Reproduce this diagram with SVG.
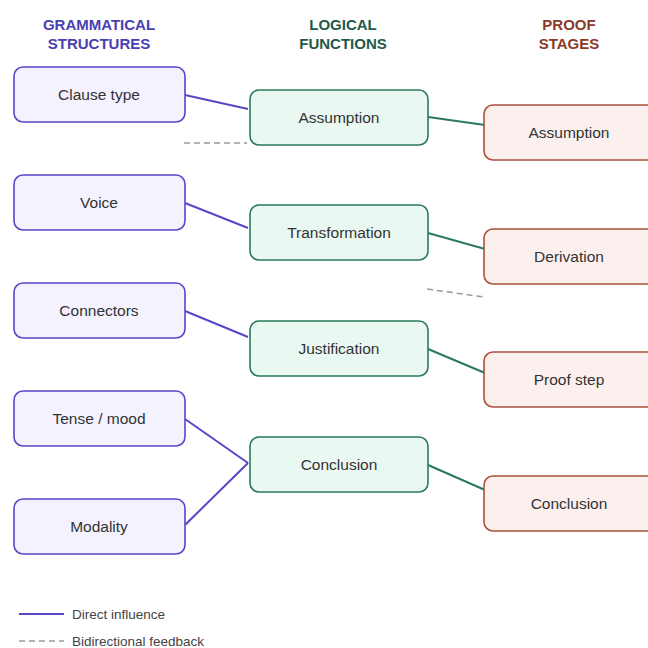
<svg xmlns="http://www.w3.org/2000/svg" width="648" height="648" viewBox="0 0 648 648">
<style>
.hdr{font-family:"Liberation Sans",Arial,sans-serif;font-weight:bold;font-size:15px;text-anchor:middle}
.lbl{font-family:"Liberation Sans",Arial,sans-serif;font-size:15.5px;fill:#333;text-anchor:middle}
.leg{font-family:"Liberation Sans",Arial,sans-serif;font-size:13.5px;fill:#444}
.g rect{fill:#f3f2fe;stroke:#5548c8;stroke-width:1.6}
.l rect{fill:#eaf8f2;stroke:#2a7a5a;stroke-width:1.6}
.p rect{fill:#fcf0ee;stroke:#a8503a;stroke-width:1.6}
.eg{stroke:#5548c8;stroke-width:2;fill:none}
.el{stroke:#2a7a5a;stroke-width:2;fill:none}
.ed{stroke:#999;stroke-width:1.5;stroke-dasharray:6,4;fill:none}
</style>
<rect width="648" height="648" fill="#fff"/>
<g id="headers">
<text class="hdr" fill="#4a3fb0"><tspan x="99" y="30">GRAMMATICAL</tspan><tspan x="99" y="49">STRUCTURES</tspan></text>
<text class="hdr" fill="#1f5a4a"><tspan x="343" y="30">LOGICAL</tspan><tspan x="343" y="49">FUNCTIONS</tspan></text>
<text class="hdr" fill="#8b3a2a"><tspan x="569" y="30">PROOF</tspan><tspan x="569" y="49">STAGES</tspan></text>
</g>
<g id="connectors">
<line class="eg" x1="185" y1="95" x2="248" y2="109"/>
<line class="eg" x1="185" y1="203" x2="248" y2="228"/>
<line class="eg" x1="185" y1="311" x2="248" y2="337"/>
<line class="eg" x1="185" y1="419" x2="248" y2="463"/>
<line class="eg" x1="185" y1="525" x2="248" y2="463"/>
<line class="el" x1="428" y1="117" x2="485" y2="125"/>
<line class="el" x1="428" y1="233" x2="485" y2="249"/>
<line class="el" x1="428" y1="349" x2="485" y2="373"/>
<line class="el" x1="428" y1="465" x2="485" y2="490"/>
<line class="ed" x1="184" y1="143" x2="247" y2="143"/>
<line class="ed" x1="427" y1="289" x2="484" y2="297"/>
</g>
<g id="n-clause" class="g"><rect x="14" y="67" width="171" height="55" rx="9"/><text class="lbl" x="99" y="100">Clause type</text></g>
<g id="n-voice" class="g"><rect x="14" y="175" width="171" height="55" rx="9"/><text class="lbl" x="99" y="208">Voice</text></g>
<g id="n-connectors" class="g"><rect x="14" y="283" width="171" height="55" rx="9"/><text class="lbl" x="99" y="316">Connectors</text></g>
<g id="n-tense" class="g"><rect x="14" y="391" width="171" height="55" rx="9"/><text class="lbl" x="99" y="424">Tense / mood</text></g>
<g id="n-modality" class="g"><rect x="14" y="499" width="171" height="55" rx="9"/><text class="lbl" x="99" y="532">Modality</text></g>
<g id="n-assumption" class="l"><rect x="250" y="90" width="178" height="55" rx="9"/><text class="lbl" x="339" y="123">Assumption</text></g>
<g id="n-transformation" class="l"><rect x="250" y="205" width="178" height="55" rx="9"/><text class="lbl" x="339" y="238">Transformation</text></g>
<g id="n-justification" class="l"><rect x="250" y="321" width="178" height="55" rx="9"/><text class="lbl" x="339" y="354">Justification</text></g>
<g id="n-conclusion" class="l"><rect x="250" y="437" width="178" height="55" rx="9"/><text class="lbl" x="339" y="470">Conclusion</text></g>
<g id="p-assumption" class="p"><rect x="484" y="105" width="175" height="55" rx="9"/><text class="lbl" x="569" y="138">Assumption</text></g>
<g id="p-derivation" class="p"><rect x="484" y="229" width="175" height="55" rx="9"/><text class="lbl" x="569" y="262">Derivation</text></g>
<g id="p-proofstep" class="p"><rect x="484" y="352" width="175" height="55" rx="9"/><text class="lbl" x="569" y="385">Proof step</text></g>
<g id="p-conclusion" class="p"><rect x="484" y="476" width="175" height="55" rx="9"/><text class="lbl" x="569" y="509">Conclusion</text></g>
<g id="legend">
<line class="eg" x1="19" y1="614" x2="64" y2="614"/>
<text class="leg" x="72" y="619">Direct influence</text>
<line class="ed" x1="19" y1="641" x2="64" y2="641"/>
<text class="leg" x="72" y="646">Bidirectional feedback</text>
</g>
</svg>
